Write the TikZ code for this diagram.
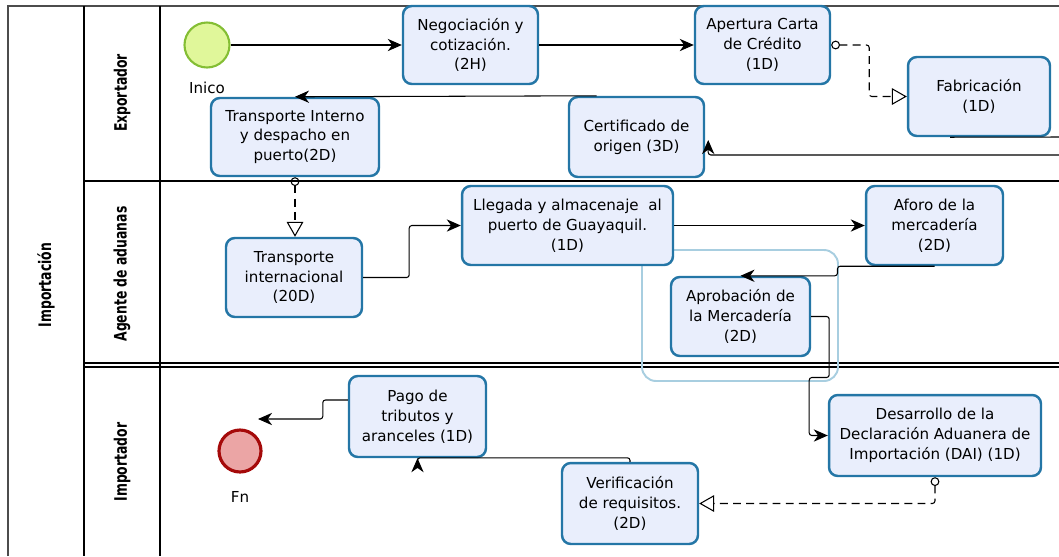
\documentclass[tikz,border=0pt]{standalone}
\usepackage{fontspec}
\setmainfont{DejaVu Sans}
\newfontfamily\lanefont{DejaVu Sans Condensed}[FakeStretch=0.8]
\usetikzlibrary{arrows.meta,calc}

\definecolor{taskfill}{RGB}{233,238,252}
\definecolor{taskline}{RGB}{36,118,166}
\definecolor{startfill}{RGB}{224,247,154}
\definecolor{startline}{RGB}{132,190,52}
\definecolor{endfill}{RGB}{235,165,165}
\definecolor{endline}{RGB}{165,10,10}
\definecolor{groupline}{RGB}{168,206,224}

\begin{document}
\begin{tikzpicture}[x=0.02cm,y=-0.02cm,
    task/.style={draw=taskline,fill=taskfill,line width=1.4pt,rounded corners=5pt,align=center,inner sep=1pt,font=\fontsize{8.6}{11.3}\selectfont},
    flow/.style={-{Stealth[length=8pt,width=7pt,inset=2.5pt]},line width=0.6pt,rounded corners=1.5pt},
    msg/.style={{Circle[open,length=5pt,width=5pt]}-{Triangle[open,length=8.5pt,width=9.5pt,fill=white]},dash pattern=on 4.5pt off 3pt,line width=0.6pt,rounded corners=1.5pt},
    lanetext/.style={rotate=90,font=\lanefont\bfseries\fontsize{9.8}{11}\selectfont},
    evtext/.style={font=\fontsize{8.6}{10}\selectfont}]
    \useasboundingbox (0,0) rectangle (1059,556);
    % pool and lanes
    \draw[line width=0.8pt,gray!60!black] (8,556) -- (8,6) -- (1059,6);
    \draw[line width=1.4pt] (84,6) -- (84,556);
    \draw[line width=0.9pt] (160,6) -- (160,556);
    \draw[line width=1.4pt] (84,181) -- (1059,181);
    \draw[line width=0.9pt] (84,363) -- (1059,363);
    \draw[line width=0.9pt] (84,367) -- (1059,367);
    \node[lanetext] (pool) at (46,285) {Importación};
    \node[lanetext] (lexp) at (122,93) {Exportador};
    \node[lanetext] (lage) at (122,274) {Agente de aduanas};
    \node[lanetext] (limp) at (122,462) {Importador};
    % group
    \draw[groupline,line width=1.1pt,rounded corners=8pt] (642,250) rectangle (838,381);
    % events
    \node[circle,draw=startline,fill=startfill,line width=1.2pt,minimum size=0.9cm,inner sep=0pt] (inicio) at (207,45) {};
    \node[evtext] (tinicio) at (207,88) {Inico};
    \node[circle,draw=endline,fill=endfill,line width=1.8pt,minimum size=0.84cm,inner sep=0pt] (fin) at (240,451) {};
    \node[evtext] (tfin) at (240,497) {Fn};
    % tasks
    \node[task,minimum width=2.7cm,minimum height=1.56cm] (negoc) at (470.5,45) {Negociación y\\cotización.\\(2H)};
    \node[task,minimum width=2.7cm,minimum height=1.56cm] (apertura) at (762.5,45) {Apertura Carta\\de Crédito\\(1D)};
    \node[task,minimum width=2.84cm,minimum height=1.58cm] (fabric) at (979,96.5) {Fabricación\\(1D)};
    \node[task,minimum width=2.7cm,minimum height=1.6cm] (certif) at (636.5,137) {Certificado de\\origen (3D)};
    \node[task,minimum width=3.36cm,minimum height=1.56cm] (trint) at (295,137) {Transporte Interno\\y despacho en\\puerto(2D)};
    \node[task,minimum width=2.72cm,minimum height=1.58cm] (trintl) at (294,277.5) {Transporte\\internacional\\(20D)};
    \node[task,minimum width=4.22cm,minimum height=1.58cm] (llegada) at (567.5,225.5) {Llegada y almacenaje~ al\\puerto de Guayaquil.\\(1D)};
    \node[task,minimum width=2.74cm,minimum height=1.58cm] (aforo) at (934.5,225.5) {Aforo de la\\mercadería\\(2D)};
    \node[task,minimum width=2.78cm,minimum height=1.58cm] (aprob) at (740.5,316.5) {Aprobación de\\la Mercadería\\(2D)};
    \node[task,minimum width=4.24cm,minimum height=1.62cm] (desarr) at (935,435.5) {Desarrollo de la\\Declaración Aduanera de\\Importación (DAI) (1D)};
    \node[task,minimum width=2.72cm,minimum height=1.62cm] (verif) at (630,503.5) {Verificación\\de requisitos.\\(2D)};
    \node[task,minimum width=2.74cm,minimum height=1.62cm] (pago) at (417.5,416.5) {Pago de\\tributos y\\aranceles (1D)};
    % free ends
    \coordinate (fabout) at (1059,137);
    \coordinate (certin) at (1059,155);
    \coordinate (finarrow) at (258,419);
    % flows
    \draw[flow] (inicio) -- (negoc);
    \draw[flow] (negoc) -- (apertura);
    \draw[msg] (apertura.east) -- ++(38,0) |- (fabric.west);
    \draw[line width=0.6pt] ([xshift=-0.58cm]fabric.south) -- (fabout);
    \draw[flow] (certin) -| ([shift={(3,3)}]certif.east);
    \draw[flow] ([xshift=-0.8cm]certif.north) -- (trint.north);
    \draw[msg] (trint.south) -- (trint.south |- trintl.north);
    \draw[flow] (trintl.east) -- ++(46,0) |- (llegada.west);
    \draw[flow] (llegada) -- (aforo);
    \draw[flow] (aforo.south) -- ++(-97,0) |- (aprob.north);
    \draw[flow] (aprob.east) -- ++(18,0) -- ++(0,61) -- ++(-20,0) |- (desarr.west);
    \draw[msg] (desarr.south) |- (verif.east);
    \draw[flow] (verif.north) -- ++(0,-4) -| (pago.south);
    \draw[flow] ([yshift=0.33cm]pago.west) -- ++(-25,0) |- (finarrow);
\end{tikzpicture}
\end{document}
